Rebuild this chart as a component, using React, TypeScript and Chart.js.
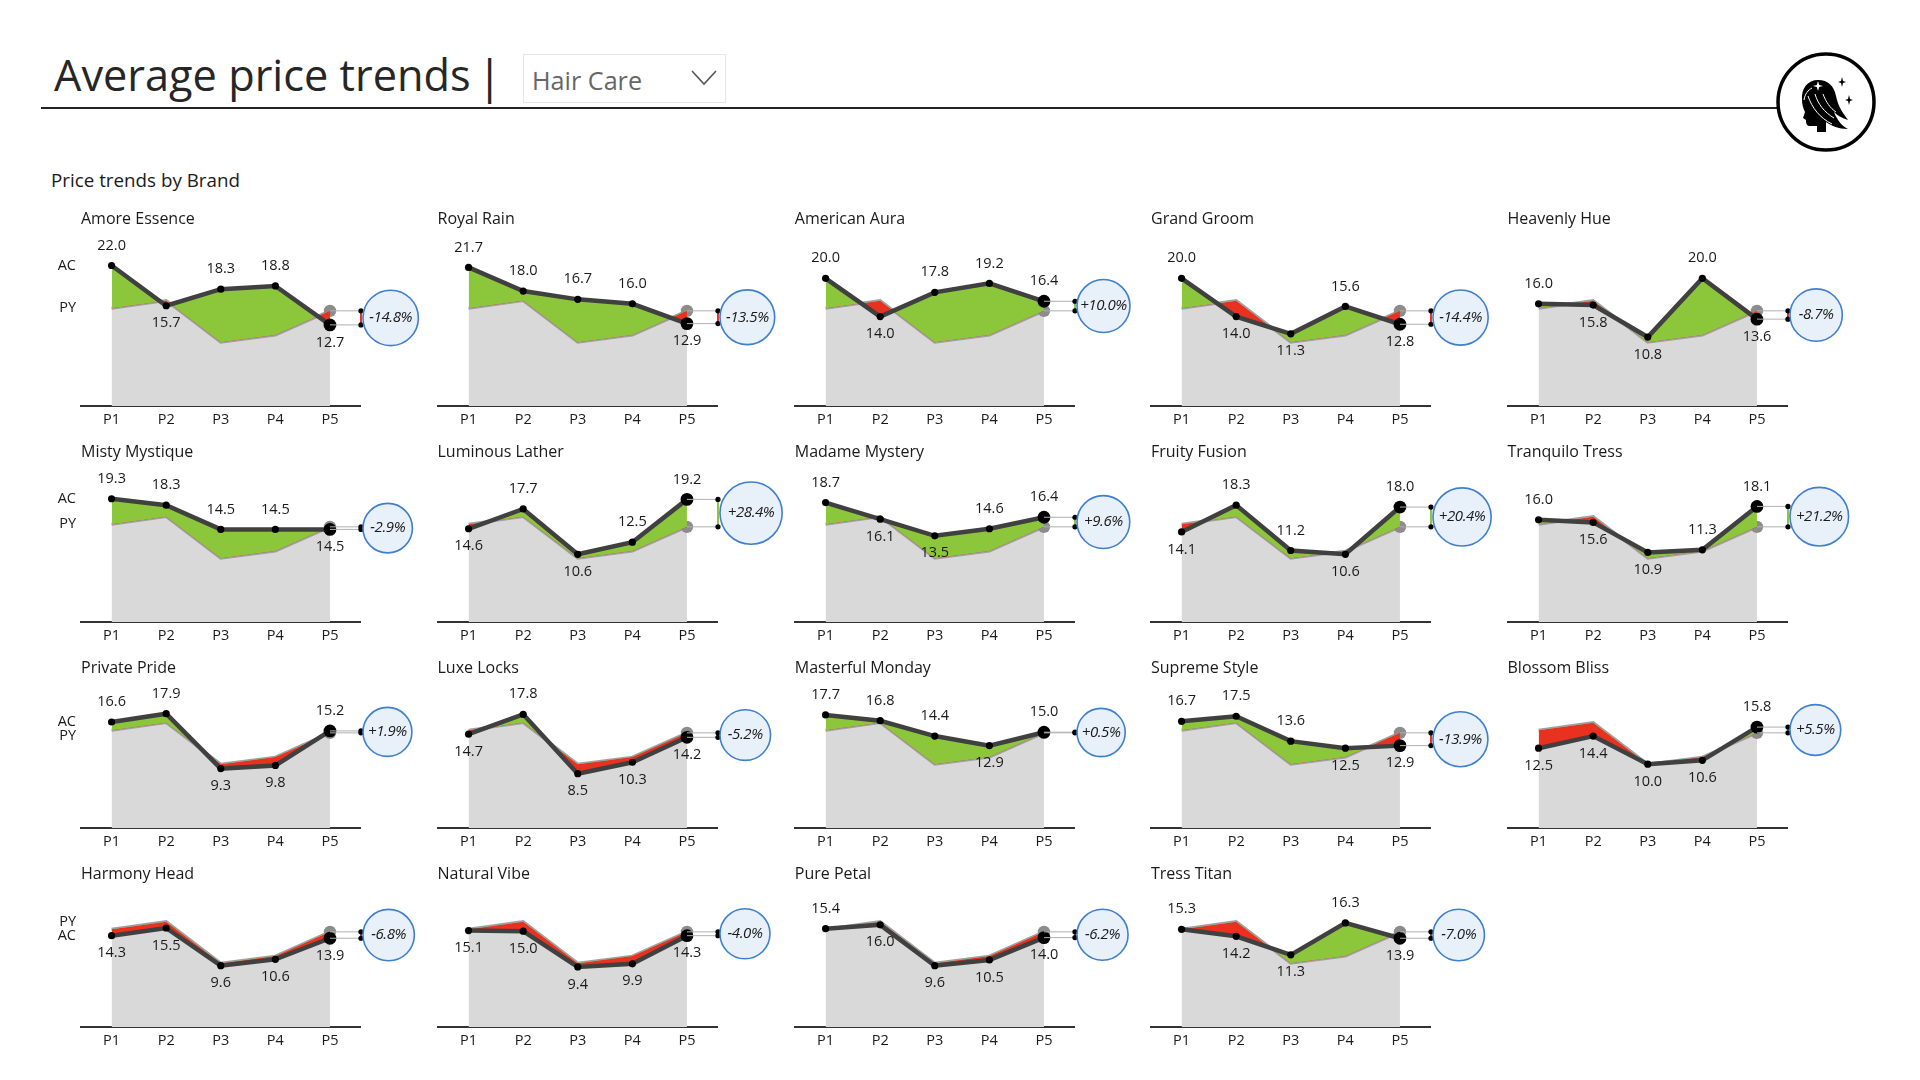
import React, { useEffect, useRef } from "react";
import { Chart, registerables } from "chart.js";

Chart.register(...registerables);

const periods = ["P1", "P2", "P3", "P4", "P5"];
const py = [15.3, 16.5, 10.0, 11.1, 14.9];
const brands = [
  "Amore Essence", "Royal Rain", "American Aura", "Grand Groom", "Heavenly Hue",
  "Misty Mystique", "Luminous Lather", "Madame Mystery", "Fruity Fusion", "Tranquilo Tress",
  "Private Pride", "Luxe Locks", "Masterful Monday", "Supreme Style", "Blossom Bliss",
  "Harmony Head", "Natural Vibe", "Pure Petal", "Tress Titan",
];
const ac = [
  [22.0, 15.7, 18.3, 18.8, 12.7],
  [21.7, 18.0, 16.7, 16.0, 12.9],
  [20.0, 14.0, 17.8, 19.2, 16.4],
  [20.0, 14.0, 11.3, 15.6, 12.8],
  [16.0, 15.8, 10.8, 20.0, 13.6],
  [19.3, 18.3, 14.5, 14.5, 14.5],
  [14.6, 17.7, 10.6, 12.5, 19.2],
  [18.7, 16.1, 13.5, 14.6, 16.4],
  [14.1, 18.3, 11.2, 10.6, 18.0],
  [16.0, 15.6, 10.9, 11.3, 18.1],
  [16.6, 17.9, 9.3, 9.8, 15.2],
  [14.7, 17.8, 8.5, 10.3, 14.2],
  [17.7, 16.8, 14.4, 12.9, 15.0],
  [16.7, 17.5, 13.6, 12.5, 12.9],
  [12.5, 14.4, 10.0, 10.6, 15.8],
  [14.3, 15.5, 9.6, 10.6, 13.9],
  [15.1, 15.0, 9.4, 9.9, 14.3],
  [15.4, 16.0, 9.6, 10.5, 14.0],
  [15.3, 14.2, 11.3, 16.3, 13.9],
];
const variance = [
  -14.8, -13.5, 10.0, -14.4, -8.7,
  -2.9, 28.4, 9.6, 20.4, 21.2,
  1.9, -5.2, 0.5, -13.9, 5.5,
  -6.8, -4.0, -6.2, -7.0,
];
// a = value label sits above its point, b = below
const labelSides = [
  "abaab", "aaaab", "abaaa", "abbab", "abbab",
  "aaaab", "babaa", "abbaa", "baaba", "abbaa",
  "aabba", "babbb", "aaaba", "aaabb", "bbbba",
  "bbbbb", "bbbbb", "abbbb", "abbab",
];

const FONT = '"Open Sans", sans-serif';
const columnX = [81, 437.5, 794.8, 1151, 1507.5];
const rowBase = [406, 621.5, 828, 1027];
const rowTitleY = [218, 451, 667, 873];
const PAD_L = 40, PAD_R = 80, AREA_W = 279, AREA_H = 185, AXIS_H = 30, UNIT = 6.4, AUTO_TOP = 6;

function makeOverlay(i: number) {
  const values = ac[i];
  const sides = labelSides[i];
  const v = variance[i];
  return {
    id: "overlay",
    afterDatasetsDraw(chart: any) {
      const { ctx, scales } = chart;
      const x = scales.x, y = scales.y;
      const last = values.length - 1;
      const xEnd = x.getPixelForValue(last);
      const yAc = y.getPixelForValue(values[last]);
      const yPy = y.getPixelForValue(py[last]);
      const cx = xEnd + 31;
      ctx.save();
      // connector
      ctx.strokeStyle = "#b0b0b0";
      ctx.lineWidth = 1;
      ctx.beginPath();
      ctx.moveTo(xEnd, yAc); ctx.lineTo(cx, yAc);
      ctx.moveTo(xEnd, yPy); ctx.lineTo(cx, yPy);
      ctx.stroke();
      ctx.strokeStyle = v >= 0 ? "#8cc63a" : "#e8321f";
      ctx.lineWidth = 2;
      ctx.beginPath();
      ctx.moveTo(cx, yAc); ctx.lineTo(cx, yPy);
      ctx.stroke();
      ctx.fillStyle = "#000";
      [yAc, yPy].forEach((yy) => {
        ctx.beginPath();
        ctx.arc(cx, yy, 2.6, 0, Math.PI * 2);
        ctx.fill();
      });
      // bubble
      const r = 24 + 0.25 * Math.abs(v);
      const bx = cx + 2 + r;
      const by = (yAc + yPy) / 2;
      ctx.beginPath();
      ctx.arc(bx, by, r, 0, Math.PI * 2);
      ctx.fillStyle = "#e8f0fa";
      ctx.fill();
      ctx.strokeStyle = "#3f7fd0";
      ctx.lineWidth = 1.6;
      ctx.stroke();
      ctx.fillStyle = "#1a1a1a";
      ctx.font = `italic 15px ${FONT}`;
      ctx.textAlign = "center";
      ctx.textBaseline = "middle";
      ctx.letterSpacing = "-0.4px";
      ctx.fillText(`${v >= 0 ? "+" : ""}${v.toFixed(1)}%`, bx, by);
      // value labels
      ctx.font = `14.5px ${FONT}`;
      ctx.letterSpacing = "0px";
      values.forEach((val, k) => {
        const px = x.getPixelForValue(k);
        const py0 = y.getPixelForValue(val);
        const above = sides[k] === "a";
        ctx.fillText(val.toFixed(1), px, py0 + (above ? -20 : 17.5));
      });
      // series names in first column
      if (i % 5 === 0) {
        const a0 = y.getPixelForValue(values[0]);
        let p0 = y.getPixelForValue(py[0]);
        if (Math.abs(a0 - p0) < 14) p0 = a0 + (values[0] >= py[0] ? 14 : -14);
        ctx.textAlign = "right";
        ctx.fillText("AC", x.left - 5, a0);
        ctx.fillText("PY", x.left - 5, p0);
      }
      ctx.restore();
    },
  };
}

function SmallMultiple({ index }: { index: number }) {
  const ref = useRef<HTMLCanvasElement>(null);
  useEffect(() => {
    const chart = new Chart(ref.current as HTMLCanvasElement, {
      type: "line",
      data: {
        datasets: [
          {
            label: "AC",
            data: ac[index].map((y, x) => ({ x, y })),
            borderColor: "#404040",
            borderWidth: 4.5,
            pointRadius: [3.6, 3.6, 3.6, 3.6, 6.4],
            pointBackgroundColor: "#000000",
            pointBorderWidth: 0,
            fill: { target: 1, above: "#8cc63a", below: "#e8321f" },
          },
          {
            label: "PY",
            data: py.map((y, x) => ({ x, y })),
            borderColor: "#a0a0a0",
            borderWidth: 3,
            pointRadius: [0, 0, 0, 0, 6.2],
            pointBackgroundColor: "#8c8c8c",
            pointBorderWidth: 0,
            backgroundColor: "#d9d9d9",
            fill: "origin",
          },
        ],
      } as any,
      options: {
        responsive: false,
        animation: false,
        layout: { padding: { left: PAD_L, right: PAD_R, top: 0, bottom: 0 } },
        plugins: { legend: { display: false }, tooltip: { enabled: false } },
        scales: {
          x: {
            type: "linear",
            min: -0.56,
            max: 4.55,
            afterBuildTicks: (s: any) => {
              s.ticks = periods.map((_, k) => ({ value: k }));
            },
            afterFit: (s: any) => {
              s.height = AXIS_H;
            },
            grid: { display: false, drawTicks: false },
            border: { color: "#333333", width: 2 },
            ticks: {
              autoSkip: false,
              maxRotation: 0,
              padding: 5,
              color: "#1a1a1a",
              font: { family: FONT, size: 14.5 },
              callback: (val: any) => periods[val],
            },
          },
          y: { display: false, min: 0, max: (AREA_H - AUTO_TOP) / UNIT, bounds: "data" },
        },
      } as any,
      plugins: [makeOverlay(index)],
    });
    return () => chart.destroy();
  }, [index]);
  const row = Math.floor(index / 5);
  const col = index % 5;
  return (
    <>
      <canvas
        ref={ref}
        width={PAD_L + AREA_W + PAD_R}
        height={AREA_H + AXIS_H}
        style={{
          position: "absolute",
          left: columnX[col] - PAD_L,
          top: rowBase[row] - AREA_H,
          width: PAD_L + AREA_W + PAD_R,
          height: AREA_H + AXIS_H,
        }}
      />
      <div
        style={{
          position: "absolute",
          left: columnX[col],
          top: rowTitleY[row] - 12,
          height: 24,
          lineHeight: "24px",
          fontSize: 16,
          color: "#1a1a1a",
          whiteSpace: "nowrap",
        }}
      >
        {brands[index]}
      </div>
    </>
  );
}

function Logo() {
  return (
    <svg
      width={104}
      height={104}
      viewBox="0 0 104 104"
      style={{ position: "absolute", left: 1774, top: 50 }}
    >
      <circle cx={52} cy={52} r={48} fill="#fff" stroke="#000" strokeWidth={3.5} />
      <path
        d="M28 50 C27 38 34 30 44 30 C54 30 60 36 62 46 C64 56 68 62 74 70 C68 68 64 66 60 62 C63 70 68 76 74 79 C64 79 58 76 52 72 L52 82 L43 82 L43 76 L35 76 C32 75 32 72 32 70 L29 68 L31 62 C29 58 28 54 28 50 Z"
        fill="#000"
      />
      <path
        d="M30 50 C31 44 34 40 38 38 M34 46 C38 58 46 68 58 74 M41 44 C44 54 50 62 60 68 M49 44 C52 52 56 58 62 62"
        fill="none"
        stroke="#fff"
        strokeWidth={1}
      />
      <path d="M44 31 L45.200 35 L49 36 L45.200 37 L44 41 L42.800 37 L39 36 L42.800 35 Z" fill="#fff" />
      <path d="M68 27 L69 31 L72 32 L69 33 L68 37 L67 33 L64 32 L67 31 Z" fill="#000" />
      <path d="M75 45 L76 49 L79 50 L76 51 L75 55 L74 51 L71 50 L74 49 Z" fill="#000" />
    </svg>
  );
}

export default function App() {
  return (
    <div
      style={{
        position: "absolute",
        left: 0,
        top: 0,
        width: 1920,
        height: 1080,
        background: "#fff",
        overflow: "hidden",
        fontFamily: FONT,
      }}
    >
      <div
        style={{
          position: "absolute",
          left: 54,
          top: 45,
          fontSize: 43.3,
          lineHeight: "60px",
          color: "#262626",
          whiteSpace: "nowrap",
        }}
      >
        Average price trends
      </div>
      <div
        style={{
          position: "absolute",
          left: 477,
          top: 45,
          fontSize: 46,
          lineHeight: "60px",
          color: "#262626",
        }}
      >
        |
      </div>
      <div style={{ position: "absolute", left: 41, top: 107, width: 1737, height: 2, background: "#222" }} />
      <div
        style={{
          position: "absolute",
          left: 523,
          top: 54,
          width: 203,
          height: 49,
          boxSizing: "border-box",
          border: "1px solid #e6e6e6",
        }}
      />
      <div
        style={{
          position: "absolute",
          left: 532,
          top: 60,
          fontSize: 25.2,
          lineHeight: "40px",
          color: "#666",
          whiteSpace: "nowrap",
        }}
      >
        Hair Care
      </div>
      <svg width={30} height={20} style={{ position: "absolute", left: 690, top: 68 }}>
        <path d="M2 3 L14 16 L26 3" fill="none" stroke="#555" strokeWidth={1.6} />
      </svg>
      <div
        style={{
          position: "absolute",
          left: 51,
          top: 166,
          fontSize: 18.8,
          lineHeight: "28px",
          color: "#1a1a1a",
          whiteSpace: "nowrap",
        }}
      >
        Price trends by Brand
      </div>
      <Logo />
      {brands.map((b, i) => (
        <SmallMultiple key={b} index={i} />
      ))}
    </div>
  );
}
